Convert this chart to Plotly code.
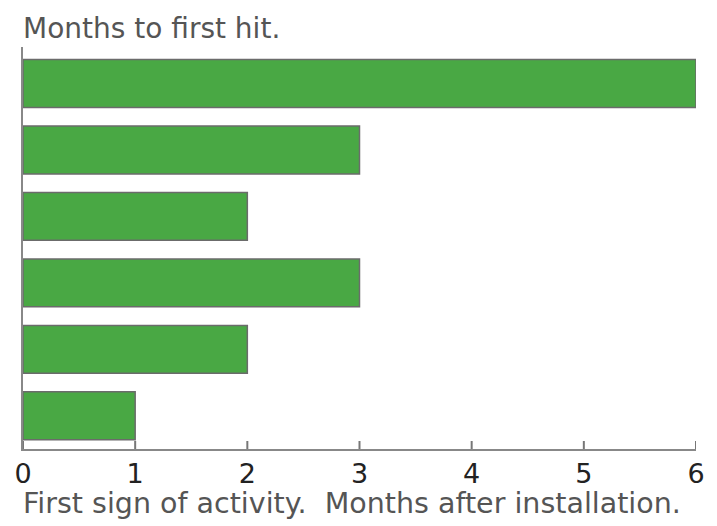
import plotly.graph_objects as go

categories = ["Site 1", "Site 2", "Site 3", "Site 4", "Site 5", "Site 6"]
months = [6, 3, 2, 3, 2, 1]
tick_values = [0, 1, 2, 3, 4, 5, 6]

font_family = "'DejaVu Sans', sans-serif"
plot_h = 526 - 47 - 77

fig = go.Figure(
    go.Bar(
        x=months,
        y=categories,
        orientation="h",
        marker=dict(color="#49a844", line=dict(color="#6b6b6b", width=1.5)),
        hoverinfo="x",
    )
)

# inside tick marks along the x axis, placed at the tick values
tick_shapes = [
    dict(
        type="line", xref="x", yref="paper",
        x0=v, x1=v, y0=0, y1=8 / plot_h,
        line=dict(color="#777", width=2),
        layer="below",
    )
    for v in tick_values
]

fig.update_layout(
    width=717,
    height=526,
    margin=dict(l=23, r=21, t=47, b=77),
    plot_bgcolor="white",
    paper_bgcolor="white",
    bargap=0.28,
    showlegend=False,
    font=dict(family=font_family, color="#444"),
    shapes=tick_shapes,
    title=dict(
        text="Months to first hit.",
        x=0, xref="paper", xanchor="left",
        y=1 - 28 / 526, yref="container", yanchor="middle",
        font=dict(size=28, color="#555", family=font_family),
    ),
    annotations=[
        dict(
            text="First sign of activity.  Months after installation.",
            x=-0.003, xref="paper", xanchor="left",
            y=-(503 - 449) / plot_h, yref="paper", yanchor="middle",
            showarrow=False,
            font=dict(size=28.5, color="#555", family=font_family),
        )
    ],
)

fig.update_xaxes(
    range=[0, 6],
    tickmode="array",
    tickvals=tick_values,
    ticks="",
    showline=True,
    linecolor="#888",
    linewidth=2,
    showgrid=False,
    zeroline=False,
    tickfont=dict(size=27, color="#222"),
)

fig.update_yaxes(
    categoryorder="array",
    categoryarray=categories[::-1],
    autorange=False,
    range=[-0.5, 5.55],
    showticklabels=False,
    ticks="",
    showline=True,
    linecolor="#888",
    linewidth=2,
    showgrid=False,
    zeroline=False,
)

fig.write_html(
    "out.html",
    config={"displayModeBar": False},
    post_script="document.body.style.margin='0';document.body.style.padding='0';",
)
